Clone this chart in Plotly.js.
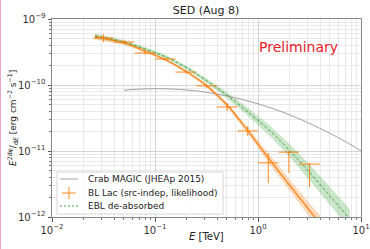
<!DOCTYPE html>
<html>
<head>
<meta charset="utf-8">
<script src="https://cdn.plot.ly/plotly-3.0.1.min.js"></script>
<style>
html,body{margin:0;padding:0;background:#fff;overflow:hidden;}
#chart{width:370px;height:249px;}
#edge{position:absolute;left:0;top:0;width:1px;height:249px;background:#eaa6c4;}
</style>
</head>
<body>
<div id="chart"></div>
<div id="edge"></div>
<script>
// ---- Data ----
// BL Lac flux points
const binEdgesTeV = [0.0251, 0.0398, 0.0631, 0.1, 0.158, 0.251, 0.398, 0.631, 1.0, 1.585, 2.512, 3.981];
const pointE      = [0.0316, 0.0501, 0.0794, 0.126, 0.1995, 0.316, 0.501, 0.794, 1.259, 1.995, 3.162];
const pointFlux   = [5.15e-10, 4.49e-10, 3.05e-10, 2.48e-10, 1.57e-10, 9.7e-11, 4.64e-11, 2.01e-11, 6.6e-12, 9.6e-12, 6.35e-12];
const pointFluxLo = [4.45e-10, 4.2e-10, 2.9e-10, 2.35e-10, 1.48e-10, 9.0e-11, 4.0e-11, 1.7e-11, 3.27e-12, 4.6e-12, 2.85e-12];
const pointFluxHi = [5.95e-10, 4.8e-10, 3.2e-10, 2.6e-10, 1.66e-10, 1.04e-10, 5.3e-11, 2.4e-11, 9.3e-12, 1.0e-11, 6.6e-12];

// BL Lac fitted spectrum with band
const fitE   = [0.0261, 0.05, 0.08, 0.128, 0.205, 0.32, 0.512, 0.80, 1.28, 2.05, 3.2, 4.0];
const fitF   = [5.34e-10, 4.33e-10, 3.27e-10, 2.39e-10, 1.57e-10, 9.66e-11, 4.81e-11, 2.01e-11, 7.57e-12, 2.95e-12, 1.23e-12, 8.1e-13];
const fitFLo = [4.87e-10, 4.04e-10, 3.09e-10, 2.28e-10, 1.50e-10, 9.12e-11, 4.44e-11, 1.79e-11, 6.44e-12, 2.40e-12, 9.55e-13, 6.15e-13];
const fitFHi = [5.85e-10, 4.64e-10, 3.46e-10, 2.50e-10, 1.64e-10, 1.023e-10, 5.21e-11, 2.26e-11, 8.89e-12, 3.63e-12, 1.58e-12, 1.07e-12];

// EBL de-absorbed spectrum with band
const eblE   = [0.0261, 0.05, 0.08, 0.128, 0.205, 0.32, 0.512, 0.80, 1.28, 2.05, 3.2, 5.0, 7.8];
const eblF   = [5.52e-10, 4.49e-10, 3.51e-10, 2.65e-10, 1.81e-10, 1.15e-10, 6.81e-11, 3.90e-11, 2.08e-11, 1.0e-11, 4.64e-12, 2.08e-12, 9.3e-13];
const eblFLo = [5.04e-10, 4.19e-10, 3.27e-10, 2.47e-10, 1.69e-10, 1.06e-10, 6.14e-11, 3.40e-11, 1.73e-11, 7.94e-12, 3.52e-12, 1.51e-12, 6.58e-13];
const eblFHi = [6.05e-10, 4.81e-10, 3.76e-10, 2.84e-10, 1.94e-10, 1.247e-10, 7.55e-11, 4.48e-11, 2.50e-11, 1.26e-11, 6.12e-12, 2.87e-12, 1.31e-12];

// Crab MAGIC (JHEAp 2015) reference spectrum
const crabE = [0.05, 0.07, 0.1, 0.15, 0.2, 0.3, 0.5, 0.7, 1, 1.5, 2, 3, 5, 7, 10];
const crabF = [8.30e-11, 8.65e-11, 8.79e-11, 8.67e-11, 8.41e-11, 7.84e-11, 6.82e-11, 6.04e-11, 5.18e-11, 4.21e-11, 3.56e-11, 2.72e-11, 1.85e-11, 1.40e-11, 1.01e-11];

// Axis ticks
const xMajor = [0.01, 0.1, 1, 10];
const xMajorText = ['10<sup>−2</sup>', '10<sup>−1</sup>', '10<sup>0</sup>', '10<sup>1</sup>'];
const yMajor = [1e-12, 1e-11, 1e-10, 1e-9];
const yMajorText = ['10<sup>−12</sup>', '10<sup>−11</sup>', '10<sup>−10</sup>', '10<sup>−9</sup>'];
const mantissas = [2, 3, 4, 5, 6, 7, 8, 9];

const titleText = 'SED (Aug 8)';
const legendLabels = ['Crab MAGIC (JHEAp 2015)', 'BL Lac (src-indep, likelihood)', 'EBL de-absorbed'];

// ---- Build ----
const ORANGE = '#ff7f0e', GREEN = '#2ca02c', GRAY = '#a0a0a0';
const FONT = 'DejaVu Sans';

function minorTicks(majors) {
  const out = [];
  majors.slice(0, -1).forEach(m => mantissas.forEach(k => out.push(m * k)));
  return out;
}

const binLo = pointE.map((e, i) => e - binEdgesTeV[i]);
const binHi = pointE.map((e, i) => binEdgesTeV[i + 1] - e);
const fLo = pointFlux.map((f, i) => f - pointFluxLo[i]);
const fHi = pointFlux.map((f, i) => pointFluxHi[i] - f);

const ERRC = 'rgba(255,127,14,0.85)';
const traces = [
  {x: eblE, y: eblFLo, mode: 'lines', line: {width: 0}, hoverinfo: 'skip', showlegend: false},
  {x: eblE, y: eblFHi, mode: 'lines', line: {width: 0}, fill: 'tonexty', fillcolor: 'rgba(44,160,44,0.25)', hoverinfo: 'skip', showlegend: false},
  {x: fitE, y: fitFLo, mode: 'lines', line: {width: 0}, hoverinfo: 'skip', showlegend: false},
  {x: fitE, y: fitFHi, mode: 'lines', line: {width: 0}, fill: 'tonexty', fillcolor: 'rgba(255,127,14,0.28)', hoverinfo: 'skip', showlegend: false},
  {x: crabE, y: crabF, mode: 'lines', line: {color: GRAY, width: 1, shape: 'spline'}, showlegend: false},
  {x: fitE, y: fitF, mode: 'lines', line: {color: ORANGE, width: 1.2, shape: 'spline'}, showlegend: false},
  {x: eblE, y: eblF, mode: 'lines', line: {color: '#2a8a2a', width: 0.8, dash: '3px,2px', shape: 'spline'}, showlegend: false},
  {x: pointE, y: pointFlux, mode: 'markers', marker: {size: 1, color: ORANGE},
   error_x: {type: 'data', symmetric: false, array: binHi, arrayminus: binLo, color: ERRC, thickness: 1.1, width: 0},
   error_y: {type: 'data', symmetric: false, array: fHi, arrayminus: fLo, color: ERRC, thickness: 1.1, width: 0},
   showlegend: false}
];

// plot area in pixels
const L = 52, R = 361, T = 19, B = 217;
const px = x => (x - L) / (R - L);
const py = y => (B - y) / (B - T);

const shapes = [
  {type: 'rect', xref: 'paper', yref: 'paper', x0: px(57), x1: px(223), y0: py(214), y1: py(172),
   fillcolor: 'rgba(255,255,255,0.85)', line: {color: '#d6d6d6', width: 1}, layer: 'above'},
  {type: 'line', xref: 'paper', yref: 'paper', x0: px(60), x1: px(78), y0: py(179), y1: py(179), line: {color: GRAY, width: 1}, layer: 'above'},
  {type: 'line', xref: 'paper', yref: 'paper', x0: px(62), x1: px(76), y0: py(193), y1: py(193), line: {color: ERRC, width: 1.1}, layer: 'above'},
  {type: 'line', xref: 'paper', yref: 'paper', x0: px(69), x1: px(69), y0: py(187), y1: py(199), line: {color: ERRC, width: 1.1}, layer: 'above'},
  {type: 'line', xref: 'paper', yref: 'paper', x0: px(60), x1: px(78), y0: py(206), y1: py(206), line: {color: GREEN, width: 0.9, dash: '2px,2px'}, layer: 'above'}
];

const legendRows = [179, 193, 206];
const annotations = legendLabels.map((t, i) => ({
  text: t, xref: 'paper', yref: 'paper', x: px(86), y: py(legendRows[i]), xanchor: 'left', yanchor: 'middle',
  showarrow: false, font: {family: FONT, size: 9, color: '#222'}
}));
annotations.push(
  {text: 'Preliminary', xref: 'paper', yref: 'paper', x: px(298), y: py(47), xanchor: 'center', yanchor: 'middle',
   showarrow: false, font: {family: FONT, size: 14, color: '#e8202a'}},
  {text: '<i>E</i> [TeV]', xref: 'paper', yref: 'paper', x: px(206), y: py(236), xanchor: 'center', yanchor: 'middle',
   showarrow: false, font: {family: FONT, size: 10, color: '#222'}},
  {text: '<i>E</i><sup>2</sup><sup>dφ</sup>/<sub>d<i>E</i></sub> [erg cm<sup>−2</sup> s<sup>−1</sup>]', xref: 'paper', yref: 'paper',
   x: px(12), y: py(118), xanchor: 'center', yanchor: 'middle', textangle: -90,
   showarrow: false, font: {family: FONT, size: 9, color: '#222'}}
);

const axisCommon = {
  type: 'log', tickmode: 'array', ticks: 'outside', ticklen: 3.5, tickwidth: 1, tickcolor: '#555',
  showline: true, linecolor: '#888', linewidth: 1, mirror: true,
  showgrid: true, gridcolor: '#d4d4d4', gridwidth: 1, zeroline: false,
  tickfont: {family: FONT, size: 10, color: '#333'}
};

const layout = {
  width: 370, height: 249,
  margin: {l: L, r: 370 - R, t: T, b: 249 - B, pad: 0},
  paper_bgcolor: '#fff', plot_bgcolor: '#fff',
  font: {family: FONT, color: '#222'},
  title: {text: titleText, x: px(206), xref: 'paper', xanchor: 'center', y: 1 - 10 / 249, yref: 'container', yanchor: 'middle',
          font: {family: FONT, size: 11, color: '#222'}},
  xaxis: Object.assign({}, axisCommon, {range: [-2, 1], tickvals: xMajor, ticktext: xMajorText,
    minor: {tickmode: 'array', tickvals: minorTicks(xMajor), ticks: 'outside', ticklen: 2, tickcolor: '#777', showgrid: true, gridcolor: '#e9e9e9', gridwidth: 1}}),
  yaxis: Object.assign({}, axisCommon, {range: [-12, -9], tickvals: yMajor, ticktext: yMajorText,
    minor: {tickmode: 'array', tickvals: minorTicks(yMajor), ticks: 'outside', ticklen: 2, tickcolor: '#777', showgrid: true, gridcolor: '#e9e9e9', gridwidth: 1}}),
  shapes: shapes,
  annotations: annotations,
  showlegend: false
};

Plotly.newPlot('chart', traces, layout, {staticPlot: true, displayModeBar: false});
</script>
</body>
</html>
